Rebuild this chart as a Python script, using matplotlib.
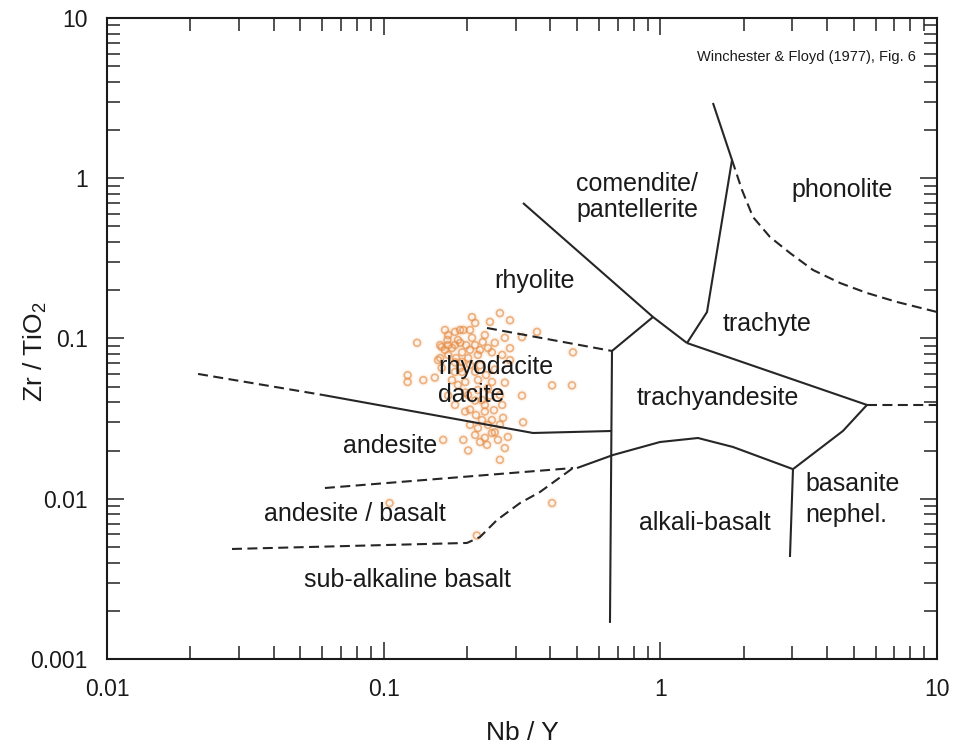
import matplotlib
matplotlib.use("Agg")
import matplotlib.pyplot as plt
from matplotlib.ticker import FixedLocator, FixedFormatter, LogLocator, NullFormatter

plt.rcParams['font.family'] = ['Liberation Sans', 'DejaVu Sans']
plt.rcParams['mathtext.fontset'] = 'custom'
plt.rcParams['mathtext.rm'] = 'Liberation Sans'
plt.rcParams['mathtext.it'] = 'Liberation Sans:italic'

# ---- data ----
x_ticks = [0.01, 0.1, 1, 10]
x_tick_labels = ["0.01", "0.1", "1", "10"]
y_ticks = [0.001, 0.01, 0.1, 1, 10]
y_tick_labels = ["0.001", "0.01", "0.1", "1", "10"]

# sample points (Nb/Y, Zr/TiO2)
sample_nby = [0.2085, 0.263, 0.286, 0.214, 0.242, 0.194, 0.181, 0.171, 0.132, 0.162,
              0.189, 0.2085, 0.228, 0.252, 0.274, 0.316, 0.358, 0.232, 0.171, 0.192,
              0.202, 0.246, 0.268, 0.286, 0.181, 0.219, 0.162, 0.122, 0.122, 0.139,
              0.153, 0.1765, 0.197, 0.274, 0.406, 0.316, 0.171, 0.181, 0.197, 0.232,
              0.268, 0.246, 0.270, 0.319, 0.214, 0.232, 0.246, 0.252, 0.281, 0.164,
              0.194, 0.223, 0.202, 0.274, 0.263, 0.406, 0.217, 0.483, 0.479, 0.105,
              0.181, 0.205, 0.223, 0.242, 0.214, 0.232, 0.197, 0.252, 0.189, 0.160,
              0.1665, 0.214, 0.238, 0.205, 0.2265, 0.263, 0.219, 0.170, 0.192, 0.160,
              0.1665, 0.1765, 0.1855, 0.1985, 0.2138, 0.2228, 0.2382, 0.1826, 0.1919, 0.2051,
              0.2192, 0.2343, 0.2462, 0.2018, 0.2192, 0.1855, 0.2265, 0.2503, 0.2155, 0.2382,
              0.2051, 0.2587, 0.2362, 0.1887, 0.2051, 0.1708, 0.1572, 0.181, 0.263, 0.286]
sample_zrti = [0.136, 0.144, 0.130, 0.125, 0.127, 0.113, 0.110, 0.105, 0.094, 0.0885,
               0.094, 0.101, 0.095, 0.094, 0.101, 0.102, 0.110, 0.105, 0.079, 0.082,
               0.0755, 0.082, 0.079, 0.087, 0.071, 0.079, 0.0655, 0.059, 0.0535, 0.055,
               0.057, 0.055, 0.0535, 0.053, 0.051, 0.044, 0.044, 0.0385, 0.035, 0.035,
               0.0385, 0.031, 0.032, 0.030, 0.025, 0.024, 0.0257, 0.026, 0.0243, 0.0233,
               0.0233, 0.0226, 0.020, 0.0207, 0.0175, 0.0094, 0.0059, 0.082, 0.051, 0.0094,
               0.091, 0.085, 0.068, 0.044, 0.041, 0.0385, 0.046, 0.064, 0.0655, 0.0755,
               0.113, 0.062, 0.049, 0.036, 0.031, 0.029, 0.0276, 0.098, 0.0713, 0.091,
               0.0848, 0.0872, 0.0979, 0.0909, 0.0909, 0.0848, 0.0872, 0.0755, 0.0618, 0.0684,
               0.0551, 0.0592, 0.0535, 0.0444, 0.0477, 0.0513, 0.0413, 0.0357, 0.0333, 0.0289,
               0.0289, 0.0233, 0.0217, 0.113, 0.113, 0.0909, 0.0733, 0.0618, 0.0444, 0.0733]

# field boundaries: solid lines
solid_lines = {
    "rhyolite_comendite": ([0.3187, 0.9404, 1.248], [0.701, 0.1362, 0.0937]),
    "rhyolite_trachyandesite": ([0.9404, 0.6685], [0.1362, 0.0836]),
    "subalkaline_alkaline": ([0.6685, 0.6574], [0.0836, 0.00168]),
    "comendite_trachyte": ([1.549, 1.815, 1.474, 1.248], [2.948, 1.300, 0.1463, 0.0937]),
    "trachyte_trachyandesite": ([1.248, 5.58], [0.0937, 0.0385]),
    "trachyandesite_basanite": ([5.58, 4.57, 3.015], [0.0385, 0.0265, 0.0153]),
    "alkalibasalt_basanite": ([3.015, 2.94], [0.0153, 0.00433]),
    "trachyandesite_alkalibasalt": ([0.4996, 0.6741, 0.9968, 1.367, 1.830, 3.015],
                                    [0.01555, 0.01875, 0.0226, 0.02394, 0.02104, 0.0153]),
    "andesite_dacite": ([0.0603, 0.3464, 0.6685], [0.04441, 0.02573, 0.02648]),
}
# field boundaries: dashed lines
dashed_lines = {
    "andesite_dacite_ext": ([0.02133, 0.0603], [0.0601, 0.04441]),
    "rhyolite_rhyodacite": ([0.2362, 0.6685], [0.1163, 0.0836]),
    "phonolite_trachyte": ([1.815, 1.972, 2.161, 2.489, 2.94, 3.561, 4.459, 5.58, 7.164, 10.0],
                           [1.300, 0.845, 0.573, 0.430, 0.3416, 0.2676, 0.222, 0.1923, 0.169, 0.1463]),
    "trachyandesite_ext": ([5.58, 10.0], [0.0385, 0.0385]),
    "andesite_andbasalt": ([0.0613, 0.4832], [0.01167, 0.01555]),
    "andbasalt_subalk": ([0.02829, 0.2, 0.2228, 0.2567, 0.3109, 0.3671, 0.4832],
                         [0.00486, 0.0053, 0.00577, 0.00737, 0.0094, 0.01102, 0.01555]),
}

field_labels = [
    ("comendite/\npantellerite", 0.823, 0.764, 'center'),
    ("phonolite", 4.53, 0.845, 'center'),
    ("rhyolite", 0.352, 0.2285, 'center'),
    ("trachyte", 2.428, 0.1231, 'center'),
    ("rhyodacite", 0.1572, 0.0664, 'left'),
    ("dacite", 0.1572, 0.0444, 'left'),
    ("trachyandesite", 1.615, 0.0425, 'center'),
    ("andesite", 0.1054, 0.02135, 'center'),
    ("basanite", 3.332, 0.01236, 'left'),
    ("nephel.", 3.332, 0.00792, 'left'),
    ("andesite / basalt", 0.0787, 0.00803, 'center'),
    ("alkali-basalt", 1.449, 0.00706, 'center'),
    ("sub-alkaline basalt", 0.1214, 0.00311, 'center'),
]

# ---- plot ----
fig = plt.figure(figsize=(9.6, 7.46), dpi=100)
ax = fig.add_axes([0.1115, 0.1166, 0.8646, 0.8593])
ax.set_xscale('log')
ax.set_yscale('log')
ax.set_xlim(0.01, 10)
ax.set_ylim(0.001, 10)

line_color = '#262626'
for xs, ys in solid_lines.values():
    ax.plot(xs, ys, color=line_color, lw=1.5, solid_capstyle='butt', solid_joinstyle='miter')
for xs, ys in dashed_lines.values():
    ax.plot(xs, ys, color=line_color, lw=1.5, dashes=(4.8, 2.6))

# soft halo (the reference markers look blurred) + hollow markers
ax.scatter(sample_nby, sample_zrti, s=70, color='#F29A50', edgecolors='none',
           alpha=0.10, zorder=1)
ax.scatter(sample_nby, sample_zrti, s=24, facecolors='none', edgecolors='#E58C44',
           linewidths=1.2, alpha=0.65, zorder=1)

for txt, x, y, ha in field_labels:
    ax.text(x, y, txt, ha=ha, va='center', fontsize=18, color='#1a1a1a',
            linespacing=1.1, multialignment='center' if ha == 'center' else 'left', zorder=4)

ax.text(0.975, 0.939, "Winchester & Floyd (1977), Fig. 6", transform=ax.transAxes,
        ha='right', va='center', fontsize=10.5, color='#1a1a1a')

ax.xaxis.set_major_locator(FixedLocator(x_ticks))
ax.xaxis.set_major_formatter(FixedFormatter(x_tick_labels))
ax.yaxis.set_major_locator(FixedLocator(y_ticks))
ax.yaxis.set_major_formatter(FixedFormatter(y_tick_labels))
ax.xaxis.set_minor_locator(LogLocator(base=10, subs=range(2, 10), numticks=20))
ax.yaxis.set_minor_locator(LogLocator(base=10, subs=range(2, 10), numticks=20))
ax.xaxis.set_minor_formatter(NullFormatter())
ax.yaxis.set_minor_formatter(NullFormatter())

ax.tick_params(which='both', direction='in', top=True, right=True, color='#222222')
ax.tick_params(which='major', length=12.5, width=1.1, labelsize=16.5, pad=14, labelcolor='#1a1a1a')
ax.tick_params(which='minor', length=9.3, width=1.1)
for sp in ax.spines.values():
    sp.set_linewidth(1.5)
    sp.set_color('#1a1a1a')

fig.text(522/960, 1 - 733/746, "Nb / Y", ha='center', va='center', fontsize=19, color='#1a1a1a')
fig.text(35/960, 1 - 352/746, "Zr / TiO$_2$", ha='center', va='center', rotation=90,
         fontsize=19, color='#1a1a1a')

fig.savefig("out.png", dpi=100)
